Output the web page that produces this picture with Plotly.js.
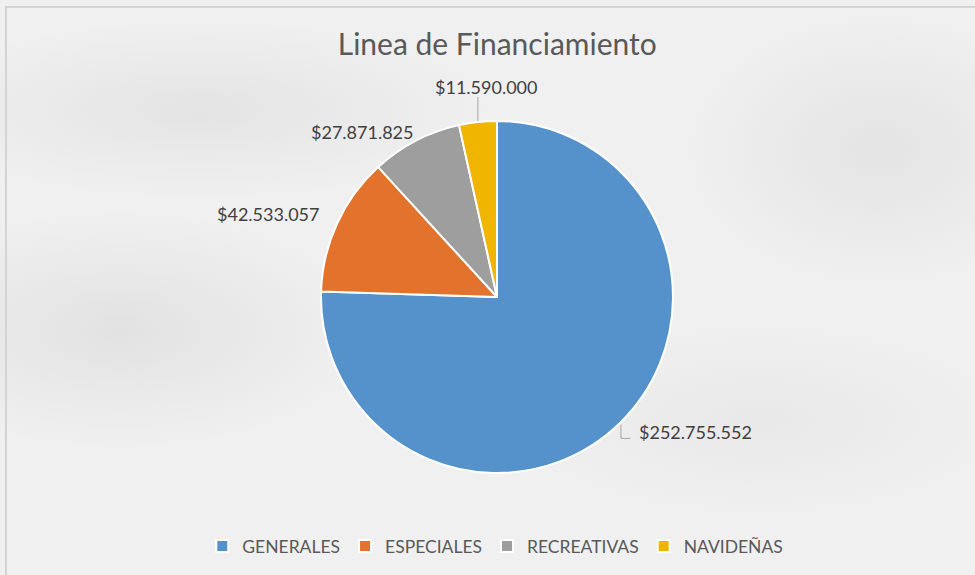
<!DOCTYPE html>
<html>
<head>
<meta charset="utf-8">
<script src="https://cdn.plot.ly/plotly-3.0.1.min.js"></script>
<style>
  html, body { margin: 0; padding: 0; }
  body {
    width: 975px; height: 575px; overflow: hidden;
    background:
      radial-gradient(ellipse 260px 120px at 120px 330px, rgba(200,200,200,0.35), rgba(200,200,200,0) 100%),
      radial-gradient(ellipse 300px 90px at 200px 110px, rgba(205,205,205,0.35), rgba(205,205,205,0) 100%),
      radial-gradient(ellipse 200px 140px at 880px 150px, rgba(205,205,205,0.35), rgba(205,205,205,0) 100%),
      radial-gradient(ellipse 260px 100px at 760px 420px, rgba(210,210,210,0.25), rgba(210,210,210,0) 100%),
      #f0f0f0;
  }
  #chart { width: 975px; height: 575px; }
</style>
</head>
<body>
<div id="chart"></div>
<script>
// ---- data ----
const categories = ['GENERALES', 'ESPECIALES', 'RECREATIVAS', 'NAVIDEÑAS'];
const values = [252755552, 42533057, 27871825, 11590000];
const colors = ['#5592cb', '#e2722c', '#9e9e9e', '#f0b500'];
const chartTitle = 'Linea de Financiamiento';

// ---- geometry / style ----
const W = 975, H = 575;
const CX = 497, CY = 297, R = 176;
// label text-centre offsets (px) relative to each slice's outer mid-point
const labelShift = [[76, 9], [-69, -9], [-54, -9], [8, -35]];
const leaderStyle = ['elbow', 'none', 'none', 'vertical'];

function fmt(v) { return '$' + String(v).replace(/\B(?=(\d{3})+(?!\d))/g, '.'); }
const px2x = p => p / W;
const py2y = p => 1 - p / H;

const total = values.reduce((a, b) => a + b, 0);
let cum = 0;
const annotations = [];
const shapes = [];
values.forEach((v, i) => {
  const mid = (cum + v / 2) / total * 2 * Math.PI; // clockwise from 12 o'clock
  cum += v;
  const ex = CX + R * Math.sin(mid);
  const ey = CY - R * Math.cos(mid);
  annotations.push({
    xref: 'paper', yref: 'paper', x: px2x(ex), y: py2y(ey),
    xanchor: 'center', yanchor: 'middle', showarrow: false,
    xshift: labelShift[i][0], yshift: -labelShift[i][1],
    text: fmt(v),
    font: { family: 'Lato, "Open Sans", sans-serif', size: 18, color: '#404040' }
  });
  if (leaderStyle[i] === 'vertical') {
    shapes.push({ type: 'line', xref: 'paper', yref: 'paper',
      x0: px2x(ex), y0: py2y(ey - 1), x1: px2x(ex), y1: py2y(ey + labelShift[i][1] + 10),
      line: { color: '#a6a6a6', width: 1 } });
  } else if (leaderStyle[i] === 'elbow') {
    const x0 = ex + 1.5, y0 = ey + 1, y1 = ey + 15, x1 = ex + 11;
    shapes.push({ type: 'path', xref: 'paper', yref: 'paper',
      path: `M ${px2x(x0)} ${py2y(y0)} L ${px2x(x0)} ${py2y(y1)} L ${px2x(x1)} ${py2y(y1)}`,
      line: { color: '#a6a6a6', width: 1 } });
  }
});

// chart frame
shapes.push({ type: 'rect', xref: 'paper', yref: 'paper',
  x0: px2x(6), y0: py2y(7), x1: 1.02, y1: -0.02,
  line: { color: '#d4d4d4', width: 2 }, fillcolor: 'rgba(0,0,0,0)', layer: 'below' });

const trace = {
  type: 'pie',
  labels: categories,
  values: values,
  sort: false,
  direction: 'clockwise',
  rotation: 0,
  marker: { colors: colors, line: { color: '#ffffff', width: 2 } },
  textinfo: 'none',
  hoverinfo: 'label+value+percent',
  domain: { x: [px2x(CX - R), px2x(CX + R)], y: [py2y(CY + R), py2y(CY - R)] }
};

const layout = {
  width: W, height: H,
  margin: { l: 0, r: 0, t: 0, b: 0 },
  paper_bgcolor: 'rgba(0,0,0,0)',
  plot_bgcolor: 'rgba(0,0,0,0)',
  title: {
    text: chartTitle,
    x: 0.51, xanchor: 'center', y: py2y(44), yanchor: 'middle',
    font: { family: 'Lato, "Open Sans", sans-serif', size: 30, color: '#595959' }
  },
  showlegend: true,
  legend: {
    orientation: 'h', x: 0.508, xanchor: 'center', y: py2y(546), yanchor: 'middle',
    font: { family: 'Lato, "Open Sans", sans-serif', size: 17.5, color: '#595959' },
    bgcolor: 'rgba(0,0,0,0)', traceorder: 'normal'
  },
  annotations: annotations,
  shapes: shapes
};

Plotly.newPlot('chart', [trace], layout, { displayModeBar: false, staticPlot: true });
</script>
</body>
</html>
